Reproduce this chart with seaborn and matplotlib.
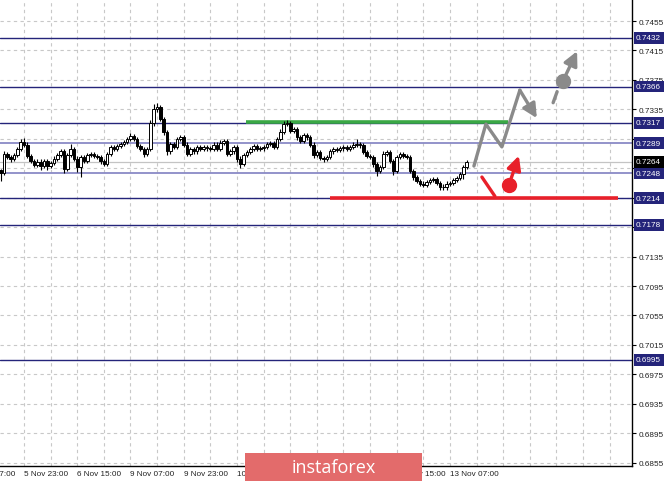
import numpy as np
import pandas as pd
import matplotlib
matplotlib.use("Agg")
import matplotlib.pyplot as plt
from matplotlib.patches import Rectangle
from matplotlib.transforms import blended_transform_factory
import seaborn as sns

# H1 candles, bar index counted from 5 Nov 07:00
FIRST_BAR = 9
FIRST_OPEN = 0.7253
closes = [
    0.7249, 0.7274, 0.7270, 0.7268, 0.7273, 0.7281, 0.7291, 0.7287, 0.7272, 0.7265,
    0.7259, 0.7264, 0.7258, 0.7265, 0.7258, 0.7262, 0.7268, 0.7273, 0.7278, 0.7254,
    0.7273, 0.7281, 0.7268, 0.7257, 0.7270, 0.7265, 0.7273, 0.7274, 0.7272, 0.7270,
    0.7265, 0.7261, 0.7274, 0.7284, 0.7281, 0.7285, 0.7288, 0.7291, 0.7295, 0.7299,
    0.7295, 0.7285, 0.7281, 0.7274, 0.7281, 0.7316, 0.7335, 0.7338, 0.7322, 0.7304,
    0.7278, 0.7288, 0.7284, 0.7295, 0.7297, 0.7287, 0.7274, 0.7281, 0.7278, 0.7284,
    0.7281, 0.7284, 0.7282, 0.7281, 0.7287, 0.7281, 0.7289, 0.7292, 0.7274, 0.7278,
    0.7284, 0.7268, 0.7261, 0.7273, 0.7277, 0.7281, 0.7285, 0.7281, 0.7282, 0.7284,
    0.7288, 0.7289, 0.7284, 0.7295, 0.7304, 0.7315, 0.7316, 0.7306, 0.7308, 0.7297,
    0.7292, 0.7300, 0.7297, 0.7287, 0.7273, 0.7277, 0.7269, 0.7268, 0.7270, 0.7278,
    0.7281, 0.7280, 0.7282, 0.7284, 0.7281, 0.7284, 0.7287, 0.7288, 0.7286, 0.7277,
    0.7272, 0.7270, 0.7261, 0.7251, 0.7257, 0.7274, 0.7277, 0.7265, 0.7251, 0.7270,
    0.7274, 0.7272, 0.7270, 0.7251, 0.7243, 0.7238, 0.7234, 0.7232, 0.7236, 0.7239,
    0.7240, 0.7235, 0.7230, 0.7229, 0.7234, 0.7235, 0.7239, 0.7242, 0.7247, 0.7257, 0.7264,
]
# wick lengths in pips above / below the body
upper_wick = [
    1, 4, 3, 3, 3, 3, 4, 5, 3, 3,
    3, 3, 3, 3, 3, 3, 3, 3, 3, 3,
    3, 7, 3, 3, 3, 3, 3, 3, 3, 3,
    3, 3, 3, 3, 3, 3, 3, 3, 3, 4,
    3, 3, 3, 3, 3, 4, 7, 5, 3, 3,
    3, 3, 3, 3, 3, 3, 3, 3, 3, 3,
    3, 3, 3, 3, 3, 3, 4, 3, 3, 3,
    3, 3, 3, 3, 3, 3, 3, 3, 3, 3,
    3, 3, 3, 3, 4, 4, 4, 3, 3, 3,
    3, 3, 3, 3, 3, 3, 3, 3, 3, 3,
    3, 3, 3, 3, 3, 3, 3, 7, 3, 3,
    3, 3, 3, 3, 3, 4, 3, 3, 3, 3,
    3, 3, 3, 3, 3, 3, 3, 3, 3, 3,
    3, 3, 3, 3, 3, 3, 3, 3, 3, 3, 2,
]
lower_wick = [
    12, 3, 3, 4, 3, 3, 3, 3, 3, 3,
    3, 3, 6, 3, 6, 3, 3, 3, 3, 5,
    3, 3, 3, 7, 14, 3, 3, 3, 3, 3,
    4, 3, 3, 3, 3, 3, 3, 3, 3, 3,
    3, 3, 3, 4, 3, 3, 3, 3, 3, 4,
    5, 3, 3, 3, 3, 3, 3, 3, 3, 3,
    3, 3, 3, 3, 3, 3, 3, 3, 3, 3,
    3, 4, 6, 3, 3, 3, 3, 3, 3, 3,
    3, 3, 3, 3, 3, 3, 3, 3, 3, 3,
    3, 3, 3, 3, 4, 3, 3, 4, 3, 3,
    3, 3, 3, 3, 3, 3, 3, 3, 3, 3,
    3, 3, 4, 6, 3, 3, 3, 3, 5, 3,
    3, 3, 3, 3, 4, 3, 3, 3, 3, 3,
    3, 3, 5, 3, 3, 3, 3, 3, 3, 6, 3,
]

# levels
dark_levels = [0.7432, 0.7366, 0.7317, 0.7214, 0.7178, 0.6995]
light_levels = [0.7289, 0.7248]
current_price = 0.7264
resistance = 0.7318
resistance_span = [82.7, 161.4]
support = 0.7214
support_span = [108.0, 194.5]

price_ticks = [0.6855, 0.6895, 0.6935, 0.6975, 0.7015, 0.7055, 0.7095, 0.7135,
               0.7175, 0.7215, 0.7255, 0.7295, 0.7335, 0.7375, 0.7415, 0.7455]
time_ticks = [0, 16, 32, 48, 64, 80, 96, 112, 128, 144]
time_labels = ["5 Nov 07:00", "5 Nov 23:00", "6 Nov 15:00", "9 Nov 07:00", "9 Nov 23:00",
               "10 Nov 15:00", "11 Nov 07:00", "11 Nov 23:00", "12 Nov 15:00", "13 Nov 07:00"]

# forecast scenario marks
up_path_x = [151.2, 154.8, 159.6, 165.0]
up_path_y = [0.7258, 0.7315, 0.7284, 0.7361]
up_tip = (170.1, 0.7323)
dash_x = [175.0, 176.2]
dash_y = [0.7344, 0.7359]
gray_dot = (178.0, 0.7374)
gray_tip = (182.2, 0.7414)
red_slash_x = [153.6, 157.5]
red_slash_y = [0.7243, 0.7217]
red_dot = (161.7, 0.7232)
red_tip = (164.7, 0.7272)

NAVY = "#24247a"
LIGHT_NAVY = "#8a8ac6"
GRAY = "#8a8a8a"
RED = "#e8202a"
GREEN = "#3aa845"
FONT = ["Liberation Sans", "DejaVu Sans"]

sns.set_theme(style="white")
plt.rcParams["font.family"] = FONT

bars = np.arange(FIRST_BAR, FIRST_BAR + len(closes))
df = pd.DataFrame({"bar": bars, "close": closes})
df["open"] = df["close"].shift(1).fillna(FIRST_OPEN)
df["high"] = df[["open", "close"]].max(axis=1) + np.array(upper_wick) * 1e-4
df["low"] = df[["open", "close"]].min(axis=1) - np.array(lower_wick) * 1e-4

fig = plt.figure(figsize=(6.65, 4.85), dpi=100)
ax = fig.add_axes([0, 18 / 485, 632 / 665, 467 / 485])
ax.set_xlim(8.79, 198.7)
ax.set_ylim(0.68505, 0.74849)

# grid
for x in range(8, 200, 8):
    ax.axvline(x, color="#c8c8c8", lw=0.8, ls=(0, (3, 3)), zorder=0)
for p in price_ticks:
    ax.axhline(p, color="#c8c8c8", lw=0.8, ls=(0, (3, 3)), zorder=0)

# levels
for lv in dark_levels:
    ax.axhline(lv, color=NAVY, lw=1.0, zorder=1)
for lv in light_levels:
    ax.axhline(lv, color=LIGHT_NAVY, lw=1.3, zorder=1)
ax.axhline(current_price, color="#c4c4c4", lw=0.9, zorder=1)
ax.hlines(resistance, *resistance_span, color=GREEN, lw=2.6, zorder=3)
ax.hlines(support, *support_span, color=RED, lw=2.6, zorder=3)

# candles
ax.vlines(df["bar"], df["low"], df["high"], color="black", lw=0.8, zorder=4)
bull = df["close"] >= df["open"]
body_bottom = df[["open", "close"]].min(axis=1)
body_height = (df["close"] - df["open"]).abs().clip(lower=0.00004)
ax.bar(df["bar"][bull], body_height[bull], bottom=body_bottom[bull], width=0.78,
       facecolor="white", edgecolor="black", linewidth=0.7, zorder=5)
ax.bar(df["bar"][~bull], body_height[~bull], bottom=body_bottom[~bull], width=0.78,
       facecolor="black", edgecolor="black", linewidth=0.7, zorder=5)

# forecast
arrow = dict(arrowstyle="-|>,head_length=0.7,head_width=0.35", lw=2.4, shrinkA=0, shrinkB=0)
sns.lineplot(x=up_path_x, y=up_path_y, sort=False, color=GRAY, lw=2.4, ax=ax, zorder=6)
ax.annotate("", xy=up_tip, xytext=(up_path_x[-1], up_path_y[-1]),
            arrowprops=dict(color=GRAY, **arrow), zorder=6)
ax.plot(dash_x, dash_y, color=GRAY, lw=2.4, zorder=6)
ax.plot(*gray_dot, "o", color=GRAY, ms=10, zorder=7)
ax.annotate("", xy=gray_tip, xytext=gray_dot, arrowprops=dict(color=GRAY, **arrow), zorder=6)
ax.plot(red_slash_x, red_slash_y, color=RED, lw=2.4, zorder=6)
ax.plot(*red_dot, "o", color=RED, ms=10, zorder=7)
ax.annotate("", xy=red_tip, xytext=red_dot, arrowprops=dict(color=RED, **arrow), zorder=6)

# axes styling
for s in ["left", "top"]:
    ax.spines[s].set_visible(False)
for s in ["right", "bottom"]:
    ax.spines[s].set_color("black")
    ax.spines[s].set_linewidth(1.0)
ax.yaxis.tick_right()
ax.set_yticks(price_ticks)
ax.set_yticklabels([f"{p:.4f}" for p in price_ticks], fontsize=5.9, color="#222222")
ax.tick_params(axis="y", direction="out", length=3, width=0.8, pad=1.5, color="black")
ax.set_xticks(time_ticks[1:])
ax.set_xticklabels(time_labels[1:], fontsize=5.9, color="#222222", ha="left")
ax.tick_params(axis="x", direction="inout", length=4, width=0.8, pad=1, color="black")
trans = blended_transform_factory(ax.transData, ax.transAxes)
ax.text(time_ticks[0], -0.0075, time_labels[0], transform=trans, fontsize=5.9,
        color="#222222", ha="left", va="top", clip_on=False)

# level labels on the price scale
ytrans = blended_transform_factory(ax.transAxes, ax.transData)
for lv in dark_levels + light_levels:
    ax.text(1.0065, lv, f"{lv:.4f}", transform=ytrans, fontsize=5.9, color="white",
            ha="left", va="center", clip_on=False, zorder=10,
            bbox=dict(boxstyle="square,pad=0.3", facecolor=NAVY, edgecolor="none"))
ax.text(1.0065, current_price, f"{current_price:.4f}", transform=ytrans, fontsize=5.9,
        color="white", ha="left", va="center", clip_on=False, zorder=10,
        bbox=dict(boxstyle="square,pad=0.3", facecolor="black", edgecolor="none"))

# watermark
fig.patches.append(Rectangle((245 / 665, 3 / 485), 177 / 665, 28 / 485,
                             transform=fig.transFigure, facecolor="#e36b6b",
                             edgecolor="none", zorder=20))
fig.text(333.5 / 665, 17 / 485, "instaforex", color="white", fontsize=13,
         family=["Open Sans", "DejaVu Sans"], ha="center", va="center", zorder=21)

fig.savefig("out.png", dpi=100)
